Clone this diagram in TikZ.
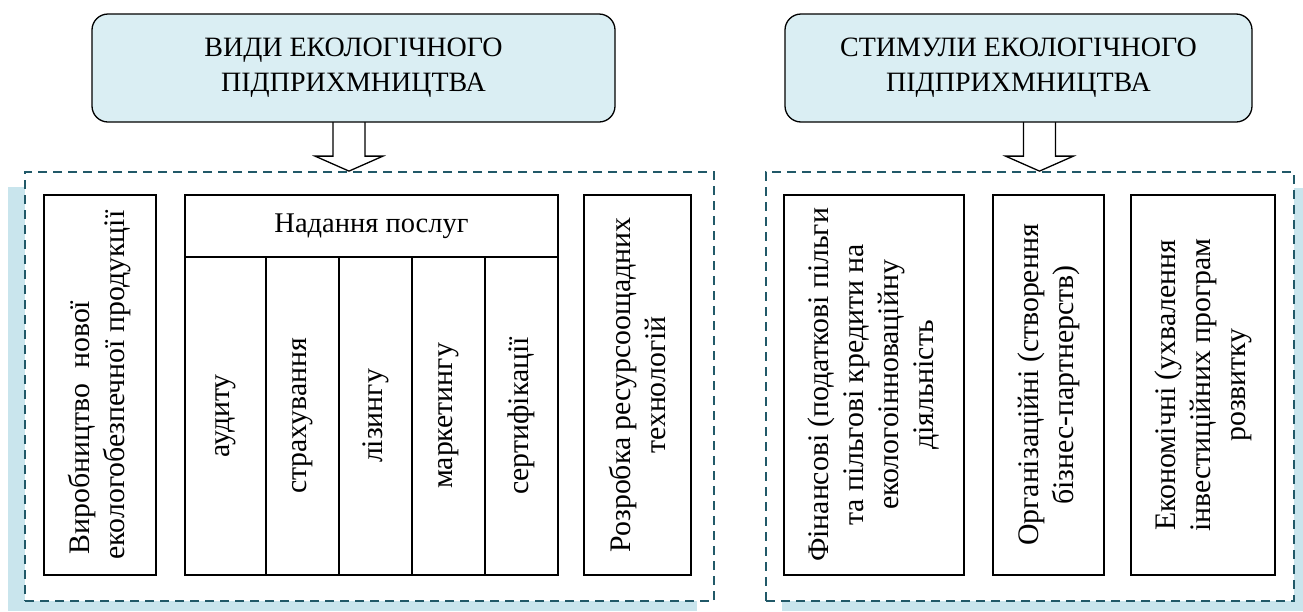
\documentclass[tikz,border=0pt]{standalone}
\usepackage{fontspec}
\setmainfont{Liberation Serif}
\definecolor{headfill}{HTML}{DAEEF3}
\definecolor{shade}{HTML}{C9E5ED}
\definecolor{dashc}{HTML}{215968}
% block arrow: #1 = top centre coordinate, #2 = tip coordinate
\newcommand{\blockarrow}[2]{%
  \draw[bigarrow] ($(#1)+(-16,0)$) -- ($(#2)+(-16,-15)$) -- ($(#2)+(-34,-15)$)
    -- (#2) -- ($(#2)+(34,-15)$) -- ($(#2)+(16,-15)$) -- ($(#1)+(16,0)$);}
\usetikzlibrary{calc}
\begin{document}
\begin{tikzpicture}[x=1pt,y=-1pt,
  txt/.style={font=\fontsize{28}{35}\selectfont},
  vtxt/.style={font=\fontsize{29.8}{35}\selectfont},
  head/.style={draw=black, line width=1.3pt, fill=headfill, rounded corners=16pt,
    txt, align=center, inner sep=0pt},
  cell/.style={draw=black, line width=1.4pt, txt, align=center, inner sep=0pt},
  vcell/.style={cell, vtxt, rotate=90},
  group/.style={draw=dashc, line width=1.8pt, dash pattern=on 9pt off 6pt, fill=white,
    inner sep=0pt},
  shadowbox/.style={fill=shade},
  bigarrow/.style={draw=black, line width=1.3pt, fill=white, line join=miter}]
\useasboundingbox (0,0) rectangle (1303,611);

% soft blue shadows behind the two groups
\fill[shadowbox] (8,187) rectangle (697,611);
\fill[shadowbox] (782,188) rectangle (1303,611);

% dashed group frames
\node[group, minimum width=689pt, minimum height=429pt] (g1) at (369.5,386.5) {};
\node[group, minimum width=528pt, minimum height=429pt] (g2) at (1030,386.5) {};

% arrows from the headings to the groups
\coordinate (a1) at (349,121);
\coordinate (a2) at (1039.5,121);
\blockarrow{a1}{a1 |- g1.north}
\blockarrow{a2}{a2 |- g2.north}

% headings
\node[head, minimum width=523pt, minimum height=108pt] (h1) at (353.5,68)
  {ВИДИ ЕКОЛОГІЧНОГО\\ПІДПРИХМНИЦТВА};
\node[head, minimum width=467pt, minimum height=108pt] (h2) at (1018.5,68)
  {СТИМУЛИ ЕКОЛОГІЧНОГО\\ПІДПРИХМНИЦТВА};

% kinds of eco-entrepreneurship
\node[vcell, align=left, minimum width=380pt, minimum height=112pt] (k1) at (100,385)
  {\hspace*{5pt}Виробництво\hspace{8pt} нової\\екологобезпечної продукції};
\node[cell, font=\fontsize{28.5}{35}\selectfont, minimum width=373pt, minimum height=62pt]
  (s0) at (371.5,226) {Надання послуг};
\node[vcell, minimum width=318pt, minimum height=81pt] (s1) at (225.5,416) {аудиту};
\node[vcell, minimum width=318pt, minimum height=73pt] (s2) at (302.5,416) {страхування};
\node[vcell, minimum width=318pt, minimum height=73pt] (s3) at (375.5,416) {лізингу};
\node[vcell, minimum width=318pt, minimum height=73pt] (s4) at (448.5,416) {маркетингу};
\node[vcell, minimum width=318pt, minimum height=73pt] (s5) at (521.5,416) {сертифікації};
\node[vcell, minimum width=380pt, minimum height=107pt] (k3) at (637.5,385)
  {Розробка ресурсоощадних\\технологій};

% stimuli
\node[vcell, minimum width=380pt, minimum height=180pt] (t1) at (874,385)
  {Фінансові (податкові пільги\\та пільгові кредити на\\екологоінноваційну\\діяльність};
\node[vcell, minimum width=380pt, minimum height=111pt] (t2) at (1048.5,385)
  {Організаційні (створення\\бізнес-партнерств)};
\node[vcell, minimum width=380pt, minimum height=144pt] (t3) at (1203,385)
  {Економічні (ухвалення\\інвестиційних програм\\розвитку};
\end{tikzpicture}
\end{document}
